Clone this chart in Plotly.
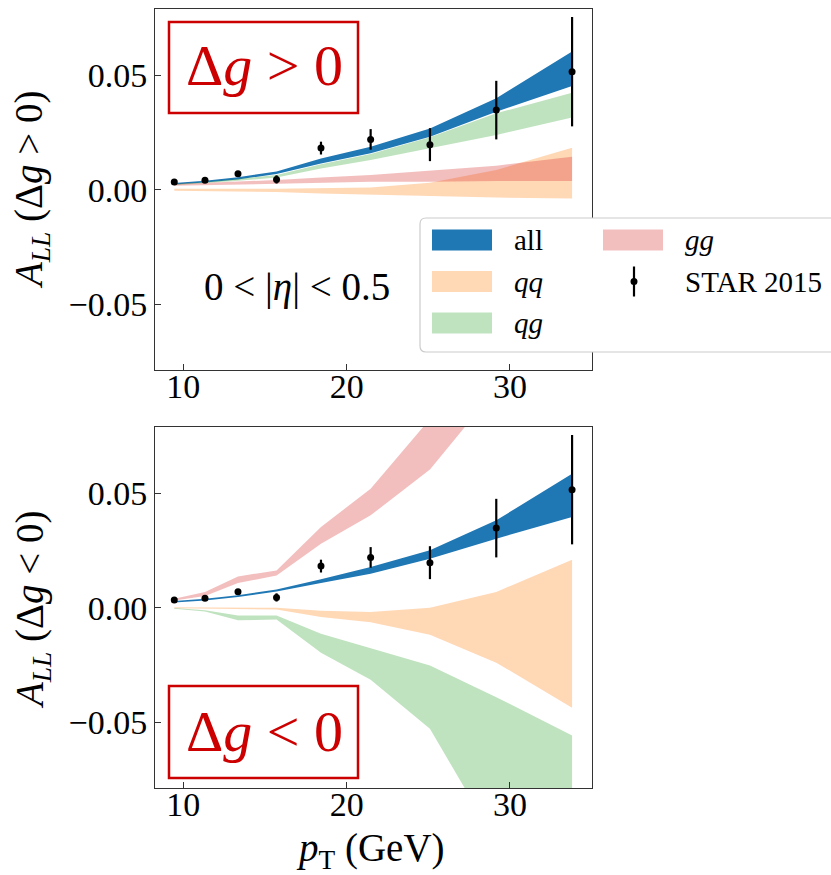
import plotly.graph_objects as go

# ---------------- data ----------------
pt = [9.45, 11.33, 13.35, 15.71, 18.43, 21.47, 25.10, 29.16, 33.80]
star = [0.0034, 0.0041, 0.0070, 0.0045, 0.0182, 0.0220, 0.0197, 0.0348, 0.0516]
star_err = [0.0008, 0.0008, 0.0012, 0.0018, 0.0028, 0.0045, 0.0072, 0.0128, 0.0239]

# Delta g > 0 (top panel)
pos_all_lo = [0.0023, 0.0032, 0.0045, 0.0069, 0.0115, 0.0159, 0.0232, 0.0341, 0.0453]
pos_all_hi = [0.0029, 0.0039, 0.0055, 0.0080, 0.0137, 0.0188, 0.0268, 0.0400, 0.0604]
pos_qq_lo = [-0.0004, -0.0006, -0.0007, -0.0010, -0.0016, -0.0022, -0.0028, -0.0034, -0.0038]
pos_qq_hi = [0.0004, 0.0004, 0.0004, 0.0004, 0.0006, 0.0010, 0.0031, 0.0086, 0.0184]
pos_qg_lo = [0.0020, 0.0028, 0.0039, 0.0054, 0.0093, 0.0130, 0.0181, 0.0239, 0.0316]
pos_qg_hi = [0.0025, 0.0034, 0.0047, 0.0064, 0.0111, 0.0156, 0.0229, 0.0334, 0.0424]
pos_gg_lo = [0.0017, 0.0020, 0.0023, 0.0025, 0.0031, 0.0035, 0.0035, 0.0038, 0.0038]
pos_gg_hi = [0.0025, 0.0031, 0.0036, 0.0042, 0.0054, 0.0064, 0.0083, 0.0105, 0.0144]

# Delta g < 0 (bottom panel)
neg_all_lo = [0.0023, 0.0032, 0.0047, 0.0071, 0.0108, 0.0149, 0.0214, 0.0302, 0.0397]
neg_all_hi = [0.0029, 0.0039, 0.0055, 0.0080, 0.0124, 0.0178, 0.0251, 0.0382, 0.0586]
neg_qq_lo = [-0.0002, -0.0003, -0.0005, -0.0008, -0.0040, -0.0063, -0.0118, -0.0240, -0.0437]
neg_qq_hi = [0.0002, 0.0001, 0.0001, 0.0000, -0.0013, -0.0019, 0.0000, 0.0069, 0.0210]
neg_qg_lo = [-0.0004, -0.0017, -0.0055, -0.0051, -0.0197, -0.0315, -0.0529, -0.1025, -0.1590]
neg_qg_hi = [-0.0001, -0.0011, -0.0034, -0.0034, -0.0114, -0.0176, -0.0252, -0.0391, -0.0558]
neg_gg_lo = [0.0032, 0.0051, 0.0108, 0.0141, 0.0280, 0.0404, 0.0604, 0.0957, 0.1300]
neg_gg_hi = [0.0039, 0.0069, 0.0137, 0.0163, 0.0353, 0.0520, 0.0825, 0.1200, 0.1600]

y_ticks = [-0.05, 0.0, 0.05]
y_ticktext = ["\u22120.05", "0.00", "0.05"]
x_ticks = [10, 20, 30]

# ---------------- style ----------------
W, H = 831, 875
FONT = "Liberation Serif"
C_ALL = "#1f77b4"
C_QQ = "rgba(255,127,14,0.3)"
C_QG = "rgba(44,160,44,0.3)"
C_GG = "rgba(214,39,40,0.3)"
RED = "#cc0000"


def PX(x):
    return x / W


def PY(y):
    return 1 - y / H


fig = go.Figure()


def band(xa, ya, lo, hi, color):
    fig.add_trace(go.Scatter(
        x=pt + pt[::-1], y=lo + hi[::-1], fill="toself", fillcolor=color,
        mode="lines", line=dict(width=0), xaxis=xa, yaxis=ya,
        hoverinfo="skip", showlegend=False))


def data_pts(xa, ya):
    fig.add_trace(go.Scatter(
        x=pt, y=star, mode="markers", xaxis=xa, yaxis=ya,
        marker=dict(color="black", size=7),
        error_y=dict(type="data", array=star_err, thickness=2.2, width=0, color="black"),
        showlegend=False))


band("x", "y", pos_all_lo, pos_all_hi, C_ALL)
band("x", "y", pos_qq_lo, pos_qq_hi, C_QQ)
band("x", "y", pos_qg_lo, pos_qg_hi, C_QG)
band("x", "y", pos_gg_lo, pos_gg_hi, C_GG)
data_pts("x", "y")

band("x2", "y2", neg_all_lo, neg_all_hi, C_ALL)
band("x2", "y2", neg_qq_lo, neg_qq_hi, C_QQ)
band("x2", "y2", neg_qg_lo, neg_qg_hi, C_QG)
band("x2", "y2", neg_gg_lo, neg_gg_hi, C_GG)
data_pts("x2", "y2")

ax_common = dict(showline=True, linecolor="#333", linewidth=1, mirror=True,
                 ticks="inside", ticklen=6, tickwidth=1, tickcolor="#333",
                 showgrid=False, zeroline=False,
                 tickfont=dict(family=FONT, size=34, color="black"))

xdom = [PX(155), PX(592)]
xrange_ = [8.27, 35.02]
yrange_ = [-0.0788, 0.0790]

fig.update_layout(
    width=W, height=H, margin=dict(l=0, r=0, t=0, b=0),
    paper_bgcolor="white", plot_bgcolor="white",
    xaxis=dict(domain=xdom, range=xrange_, tickvals=x_ticks, anchor="y",
               ticklabelstandoff=-14, **ax_common),
    yaxis=dict(domain=[PY(370), PY(9)], range=yrange_, tickvals=y_ticks,
               ticktext=y_ticktext, anchor="x", **ax_common),
    xaxis2=dict(domain=xdom, range=xrange_, tickvals=x_ticks, anchor="y2",
                ticklabelstandoff=-14, **ax_common),
    yaxis2=dict(domain=[PY(788), PY(427)], range=yrange_, tickvals=y_ticks,
                ticktext=y_ticktext, anchor="x2", **ax_common),
)

shapes = []
annots = []

# Delta g boxes
for (y0, y1, txt, yc) in [(22, 113, "\u0394<i>g</i> &gt; 0", 66), (686, 778, "\u0394<i>g</i> &lt; 0", 731)]:
    shapes.append(dict(type="rect", xref="paper", yref="paper",
                       x0=PX(169), x1=PX(358), y0=PY(y1), y1=PY(y0),
                       line=dict(color=RED, width=2.5), fillcolor="rgba(0,0,0,0)", layer="above"))
    annots.append(dict(text=txt, xref="paper", yref="paper", x=PX(264), y=PY(yc),
                       showarrow=False, xanchor="center", yanchor="middle",
                       font=dict(family=FONT, size=58, color=RED)))

# eta annotation
annots.append(dict(text="0 &lt; |<i>\u03b7</i>| &lt; 0.5", xref="paper", yref="paper",
                   x=PX(297), y=PY(287), showarrow=False, xanchor="center", yanchor="middle",
                   font=dict(family=FONT, size=39, color="black")))

# axis titles
annots.append(dict(text="<i>A</i><sub><i>LL</i></sub> (\u0394<i>g</i> &gt; 0)", xref="paper", yref="paper",
                   x=PX(32), y=PY(190), showarrow=False, textangle=-90,
                   xanchor="center", yanchor="middle",
                   font=dict(family=FONT, size=39, color="black")))
annots.append(dict(text="<i>A</i><sub><i>LL</i></sub> (\u0394<i>g</i> &lt; 0)", xref="paper", yref="paper",
                   x=PX(32), y=PY(610), showarrow=False, textangle=-90,
                   xanchor="center", yanchor="middle",
                   font=dict(family=FONT, size=39, color="black")))
annots.append(dict(text="<i>p</i><sub>T</sub> (GeV)", xref="paper", yref="paper",
                   x=PX(370), y=PY(850), showarrow=False,
                   xanchor="center", yanchor="middle",
                   font=dict(family=FONT, size=39, color="black")))

# manual legend
lx0, ly0, lx1, ly1, r = 420, 218, 845, 352, 6
path = (f"M {PX(lx0 + r)},{PY(ly0)} L {PX(lx1)},{PY(ly0)} L {PX(lx1)},{PY(ly1)} "
        f"L {PX(lx0 + r)},{PY(ly1)} Q {PX(lx0)},{PY(ly1)} {PX(lx0)},{PY(ly1 - r)} "
        f"L {PX(lx0)},{PY(ly0 + r)} Q {PX(lx0)},{PY(ly0)} {PX(lx0 + r)},{PY(ly0)} Z")
shapes.append(dict(type="path", path=path, xref="paper", yref="paper",
                   line=dict(color="#cccccc", width=1.2), fillcolor="white", layer="above"))

leg_items = [
    (432, 240, C_ALL, "all"),
    (432, 281.5, C_QQ, "<i>qq</i>"),
    (432, 323, C_QG, "<i>qg</i>"),
    (603, 240, C_GG, "<i>gg</i>"),
]
for (x0, yc, col, lab) in leg_items:
    shapes.append(dict(type="rect", xref="paper", yref="paper",
                       x0=PX(x0), x1=PX(x0 + 60), y0=PY(yc + 10.5), y1=PY(yc - 10.5),
                       line=dict(width=0), fillcolor=col, layer="above"))
    annots.append(dict(text=lab, xref="paper", yref="paper", x=PX(x0 + 80), y=PY(yc),
                       showarrow=False, xanchor="left", yanchor="middle",
                       font=dict(family=FONT, size=29, color="black")))

# STAR legend entry (error bar glyph)
shapes.append(dict(type="line", xref="paper", yref="paper",
                   x0=PX(634), x1=PX(634), y0=PY(296.5), y1=PY(266.5),
                   line=dict(color="black", width=2.2), layer="above"))
shapes.append(dict(type="circle", xref="paper", yref="paper",
                   x0=PX(630.5), x1=PX(637.5), y0=PY(285), y1=PY(278),
                   line=dict(color="black", width=0), fillcolor="black", layer="above"))
annots.append(dict(text="STAR 2015", xref="paper", yref="paper", x=PX(683), y=PY(281.5),
                   showarrow=False, xanchor="left", yanchor="middle",
                   font=dict(family=FONT, size=29, color="black")))

fig.update_layout(shapes=shapes, annotations=annots)

fig.write_html("out.html")
